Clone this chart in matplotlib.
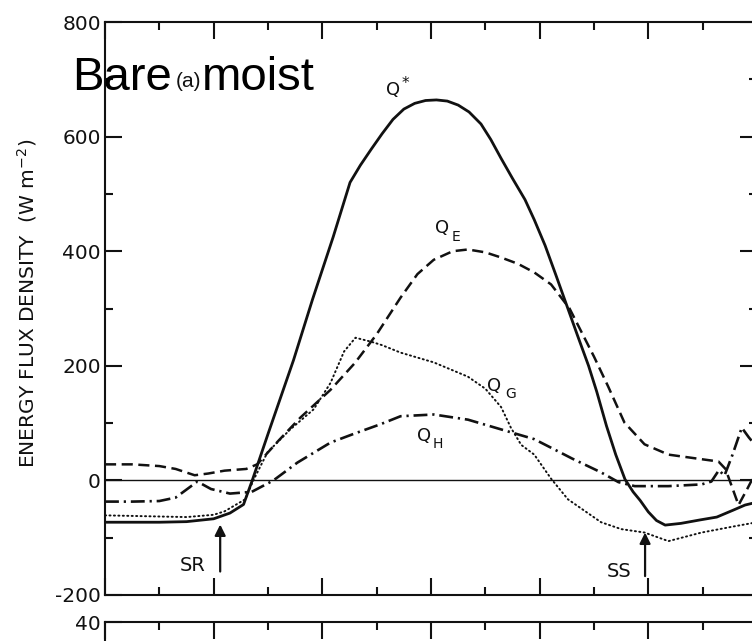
import matplotlib
matplotlib.use("Agg")
import matplotlib.pyplot as plt
from matplotlib.ticker import MultipleLocator

plt.rcParams["lines.scale_dashes"] = False
plt.rcParams["axes.unicode_minus"] = False

# hours from the left edge of the panel, flux densities in W m-2
t_qstar = [0, 0.5, 1.0, 1.5, 2.0, 2.3, 2.55, 2.71, 3.0, 3.47, 3.82, 4.2, 4.51, 4.7,
           4.9, 5.1, 5.3, 5.5, 5.7, 5.9, 6.1, 6.3, 6.5, 6.7, 6.92, 7.1, 7.29,
           7.5, 7.73, 7.9, 8.1, 8.3, 8.5, 8.7, 8.9, 9.05, 9.23, 9.4, 9.57, 9.72,
           9.85, 10.0, 10.15, 10.31, 10.6, 10.95, 11.26, 11.56, 11.78, 12.0]
qstar = [-73, -73, -73, -72, -67, -57, -42, 0, 81, 210, 316, 425, 520, 550,
         578, 605, 630, 648, 658, 663, 664, 662, 655, 643, 622, 595, 562,
         527, 490, 455, 410, 358, 305, 252, 200, 155, 95, 45, 2, -20,
         -35, -55, -70, -78, -75, -69, -64, -52, -43, -38]

t_qe = [0, 0.5, 1.0, 1.3, 1.65, 1.9, 2.2, 2.6, 2.8, 3.2, 3.6, 4.15, 4.6, 5.0,
        5.44, 5.75, 6.05, 6.4, 6.68, 7.0, 7.29, 7.6, 7.9, 8.21, 8.55, 9.0, 9.26,
        9.56, 9.93, 10.37, 10.98, 11.29, 11.42, 11.66, 11.82, 12.0]
qe = [28, 28, 25, 20, 9, 12, 17, 20, 28, 70, 110, 158, 205, 255,
      319, 360, 385, 400, 403, 398, 389, 378, 363, 342, 300, 216, 164,
      101, 63, 45, 37, 33, 20, -43, -15, 18]

t_qh = [0, 0.5, 1.0, 1.3, 1.7, 1.95, 2.3, 2.7, 3.1, 3.54, 4.15, 4.6, 5.07,
        5.44, 6.05, 6.68, 7.29, 7.9, 8.21, 8.6, 9.13, 9.45, 9.75, 10.37, 10.98,
        11.16, 11.3, 11.4, 11.55, 11.72, 11.85, 12.0]
qh = [-37, -37, -36, -30, -2, -15, -23, -20, 0, 31, 66, 82, 98,
      112, 115, 106, 89, 72, 57, 38, 14, -3, -10, -10, -7,
      -2, 18, 8, 45, 92, 75, 58]

t_qg = [0, 0.5, 1.0, 1.5, 2.0, 2.2, 2.58, 2.73, 2.99, 3.41, 3.84, 4.15, 4.4,
        4.61, 4.9, 5.1, 5.44, 6.05, 6.68, 7.0, 7.29, 7.47, 7.66, 7.9, 8.21,
        8.52, 9.13, 9.5, 9.93, 10.37, 10.98, 11.59, 12.0]
qg = [-61, -62, -63, -64, -60, -54, -33, 0, 49, 89, 124, 170, 225,
      249, 242, 236, 223, 206, 181, 160, 128, 92, 62, 45, 3,
      -33, -73, -85, -91, -106, -91, -80, -73]

# sunrise / sunset markers: (hour, arrow tail, arrow tip)
sr = (2.12, -159, -77)
ss = (9.94, -167, -91)

fig = plt.figure(figsize=(7.52, 6.41), dpi=100)
ax = fig.add_axes([105 / 752, 46 / 641, 652 / 752, 573 / 641])
ax2 = fig.add_axes([105 / 752, 19 / 641 - 0.25, 652 / 752, 0.25])

ink = "#111111"
ax.axhline(0, color=ink, lw=1.0)
ax.plot(t_qstar, qstar, color=ink, lw=2.0, solid_capstyle="round",
        solid_joinstyle="round")
ax.plot(t_qe, qe, color=ink, lw=1.8, dashes=(8, 4))
ax.plot(t_qh, qh, color=ink, lw=1.9, dashes=(10, 3.5, 1.6, 3.5))
ax.plot(t_qg, qg, color=ink, lw=1.4, dashes=(0.8, 2.4), dash_capstyle="round")

ax.set_xlim(0, 12)
ax.set_ylim(-200, 800)
ax.xaxis.set_major_locator(MultipleLocator(2))
ax.xaxis.set_minor_locator(MultipleLocator(1))
ax.yaxis.set_major_locator(MultipleLocator(200))
ax.yaxis.set_minor_locator(MultipleLocator(100))
ax.set_xticklabels([])
ax.tick_params(which="both", direction="in", top=True, right=True, width=1.5,
               color=ink, labelsize=14.5, pad=3, labelcolor=ink)
ax.tick_params(which="major", length=12)
ax.tick_params(which="minor", length=6)
for s in ax.spines.values():
    s.set_linewidth(1.5)
    s.set_color(ink)

# lower panel, only its top edge shows
ax2.set_xlim(0, 12)
ax2.set_ylim(-100, 40)
ax2.set_yticks([40])
ax2.xaxis.set_major_locator(MultipleLocator(2))
ax2.xaxis.set_minor_locator(MultipleLocator(1))
ax2.set_xticklabels([])
ax2.tick_params(which="both", direction="in", top=True, bottom=False, width=1.5,
                color=ink, labelsize=14.5, pad=3, labelcolor=ink)
ax2.tick_params(which="major", length=12)
ax2.tick_params(which="minor", length=6)
for s in ax2.spines.values():
    s.set_linewidth(1.5)
    s.set_color(ink)

# curve labels
ax.text(5.30, 681, "Q", fontsize=13, ha="center", va="center", color=ink)
ax.text(5.52, 693, "*", fontsize=11, ha="center", va="center", color=ink)
ax.text(6.20, 440, "Q", fontsize=13, ha="center", va="center", color=ink)
ax.text(6.46, 424, "E", fontsize=10, ha="center", va="center", color=ink)
ax.text(7.16, 165, "Q", fontsize=13, ha="center", va="center", color=ink)
ax.text(7.47, 151, "G", fontsize=10, ha="center", va="center", color=ink)
ax.text(5.87, 77, "Q", fontsize=13, ha="center", va="center", color=ink)
ax.text(6.13, 64, "H", fontsize=10, ha="center", va="center", color=ink)

for (x, y0, y1), lab, dx in [(sr, "SR", -0.50), (ss, "SS", -0.48)]:
    ax.annotate("", xy=(x, y1), xytext=(x, y0),
                arrowprops=dict(arrowstyle="-|>", color=ink, lw=1.6,
                                mutation_scale=16, shrinkA=0, shrinkB=0))
    ax.text(x + dx, (y0 + y1) / 2 - 30, lab, fontsize=14, ha="center",
            va="center", color=ink)

fig.text(27 / 752, 1 - 303 / 641, r"ENERGY FLUX DENSITY  (W m$^{-2}$)",
         rotation=90, ha="center", va="center", fontsize=14.5, color=ink)

# panel title laid over the frame
fig.text(72 / 752, 1 - 90 / 641, "Bare", family="Liberation Sans", fontsize=34,
         ha="left", va="baseline", color="black")
fig.text(176 / 752, 1 - 87 / 641, "(a)", family="Liberation Sans", fontsize=15,
         ha="left", va="baseline", color=ink)
fig.text(202 / 752, 1 - 90 / 641, "moist", family="Liberation Sans", fontsize=34,
         ha="left", va="baseline", color="black")

fig.savefig("out.png", dpi=100)
